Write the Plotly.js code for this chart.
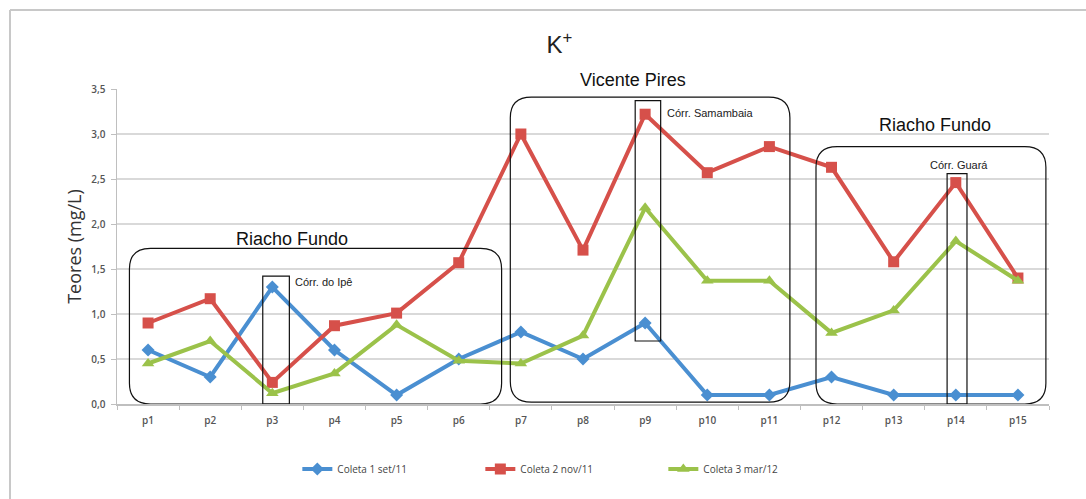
<!DOCTYPE html>
<html>
<head>
<meta charset="utf-8">
<script src="https://cdn.plot.ly/plotly-3.0.1.min.js"></script>
<style>
html,body{margin:0;padding:0;background:#fff;}
#chart{width:1086px;height:499px;}
</style>
</head>
<body>
<div id="chart"></div>
<script>
// ---- data ----
const categories = ['p1','p2','p3','p4','p5','p6','p7','p8','p9','p10','p11','p12','p13','p14','p15'];
const seriesNames = ['Coleta 1 set/11','Coleta 2 nov/11','Coleta 3 mar/12'];
const coleta1 = [0.60,0.30,1.30,0.60,0.10,0.50,0.80,0.50,0.90,0.10,0.10,0.30,0.10,0.10,0.10];
const coleta2 = [0.90,1.17,0.24,0.87,1.01,1.57,3.00,1.71,3.22,2.57,2.86,2.63,1.58,2.46,1.40];
const coleta3 = [0.45,0.70,0.12,0.34,0.88,0.48,0.45,0.76,2.18,1.37,1.37,0.79,1.04,1.81,1.37];
const yTicks = [0,0.5,1,1.5,2,2.5,3,3.5];

// ---- styling ----
const colors = ['#4a8fd1','#d6504a','#9bc24a'];
const symbols = ['diamond','square','triangle-up'];
const msizes = [10,11,11];
const values = [coleta1,coleta2,coleta3];

const traces = values.map((v,i)=>({
  type:'scatter', mode:'lines+markers', x:categories, y:v, name:seriesNames[i],
  line:{color:colors[i], width:4},
  marker:{color:colors[i], symbol:symbols[i], size:msizes[i]},
  cliponaxis:false
}));

function roundRect(x0,x1,y0,y1,rx,ry){
  return `M ${x0+rx},${y0} L ${x1-rx},${y0} Q ${x1},${y0} ${x1},${y0+ry} L ${x1},${y1-ry} Q ${x1},${y1} ${x1-rx},${y1} L ${x0+rx},${y1} Q ${x0},${y1} ${x0},${y1-ry} L ${x0},${y0+ry} Q ${x0},${y0} ${x0+rx},${y0} Z`;
}
const rx = 0.34, ry = 0.23;
const boxLine = {color:'#111', width:1.2};
const shapes = [
  {type:'path', xref:'x', yref:'y', path:roundRect(-0.30,5.69,0.0,1.73,rx,ry), line:boxLine},
  {type:'path', xref:'x', yref:'y', path:roundRect(5.83,10.33,0.02,3.41,rx,ry), line:boxLine},
  {type:'path', xref:'x', yref:'y', path:roundRect(10.75,14.45,0.0,2.86,rx,ry), line:boxLine},
  {type:'rect', xref:'x', yref:'y', x0:1.846, x1:2.274, y0:0, y1:1.42, line:boxLine},
  {type:'rect', xref:'x', yref:'y', x0:7.84, x1:8.25, y0:0.70, y1:3.37, line:boxLine},
  {type:'rect', xref:'x', yref:'y', x0:12.86, x1:13.18, y0:0, y1:2.56, line:boxLine},
  // outer frame
  {type:'line', xref:'paper', yref:'paper', x0:-0.1148, x1:-0.1148, y0:1.2508, y1:-0.32, line:{color:'#c8c8c8', width:2}},
  {type:'line', xref:'paper', yref:'paper', x0:-0.1148, x1:1.05, y0:1.2508, y1:1.2508, line:{color:'#c8c8c8', width:2}}
];

const bigFont = {family:'Liberation Sans, Arial, sans-serif', size:18, color:'#111'};
const smallFont = {family:'Liberation Sans, Arial, sans-serif', size:11, color:'#222'};
const annotations = [
  {text:'Riacho Fundo', x:2.31, y:1.83, xref:'x', yref:'y', showarrow:false, font:bigFont, xanchor:'center', yanchor:'middle'},
  {text:'Vicente Pires', x:7.80, y:1.0286, xref:'x', yref:'paper', showarrow:false, font:bigFont, xanchor:'center', yanchor:'middle'},
  {text:'Riacho Fundo', x:12.66, y:3.10, xref:'x', yref:'y', showarrow:false, font:bigFont, xanchor:'center', yanchor:'middle'},
  {text:'Córr. do Ipê', x:2.33, y:1.36, xref:'x', yref:'y', showarrow:false, font:smallFont, xanchor:'left', yanchor:'middle'},
  {text:'Córr. Samambaia', x:8.32, y:3.23, xref:'x', yref:'y', showarrow:false, font:smallFont, xanchor:'left', yanchor:'middle'},
  {text:'Córr. Guará', x:13.05, y:2.66, xref:'x', yref:'y', showarrow:false, font:smallFont, xanchor:'center', yanchor:'middle'}
];

const tickFont = {family:'Open Sans, sans-serif', size:10, color:'#555555', weight:600};
const layout = {
  width:1086, height:499,
  margin:{l:117, r:37, t:89, b:95},
  paper_bgcolor:'#fff', plot_bgcolor:'#fff',
  separators:',.',
  title:{text:'K<sup>+</sup>', x:0.515, xanchor:'center', y:0.91, yanchor:'middle', font:{family:'Liberation Sans, Arial, sans-serif', size:24, color:'#222'}},
  showlegend:true,
  legend:{orientation:'h', x:0.1935, xanchor:'left', y:-0.206, yanchor:'middle', font:{family:'Open Sans, sans-serif', size:10, color:'#444'}, entrywidth:138, entrywidthmode:'pixels', itemwidth:30, bgcolor:'rgba(0,0,0,0)'},
  xaxis:{type:'category', range:[-0.5,14.5], showgrid:false, zeroline:false, showline:true, linecolor:'#bfbfbf', linewidth:1.5,
    ticks:'outside', tickson:'boundaries', ticklen:4, tickcolor:'#bfbfbf', tickfont:tickFont, ticklabelstandoff:6, fixedrange:true},
  yaxis:{range:[0,3.5], tickvals:yTicks, tickformat:'.1f', showgrid:true, gridcolor:'#d9d9d9', gridwidth:2, zeroline:false,
    showline:true, linecolor:'#bfbfbf', linewidth:1.5, ticks:'outside', ticklen:5, tickcolor:'#bfbfbf', tickfont:tickFont, ticklabelstandoff:3,
    title:{text:'Teores (mg/L)', font:{family:'Open Sans, sans-serif', size:18, color:'#333'}, standoff:5}, fixedrange:true},
  shapes:shapes,
  annotations:annotations
};

Plotly.newPlot('chart', traces, layout, {displayModeBar:false, staticPlot:true});
</script>
</body>
</html>
